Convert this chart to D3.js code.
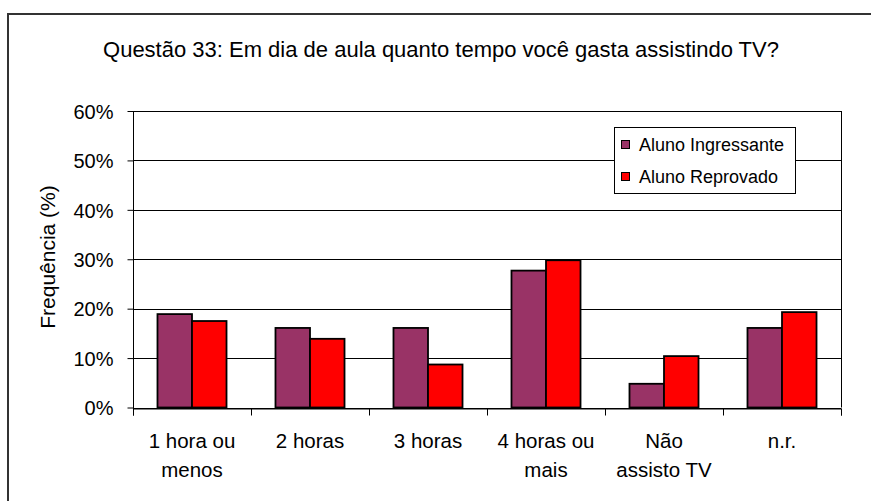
<!DOCTYPE html>
<html>
<head>
<meta charset="utf-8">
<script src="https://cdn.jsdelivr.net/npm/d3@7"></script>
<style>
body{margin:0;background:#fff;}
text{font-family:"Liberation Sans",Arial,sans-serif;fill:#000;}
</style>
</head>
<body>
<script>
var categories = [["1 hora ou","menos"],["2 horas"],["3 horas"],["4 horas ou","mais"],["Não","assisto TV"],["n.r."]];//x labels (lines)
var ingressante = [18.9, 16.1, 16.1, 27.7, 4.8, 16.1];//Aluno Ingressante (%)
var reprovado = [17.5, 13.9, 8.7, 29.8, 10.4, 19.3];//Aluno Reprovado (%)
var seriesNames = ["Aluno Ingressante","Aluno Reprovado"];
var yTicks = [0,10,20,30,40,50,60];

var W = 871, H = 501;
var plot = {left:133, top:111, right:841, bottom:407.5};//plot area

var svg = d3.select("body").append("svg")//canvas
    .attr("width", W)
    .attr("height", H);

svg.append("rect")//outer chart border
    .attr("x", 8).attr("y", 14)
    .attr("width", W).attr("height", H)
    .attr("fill","none").attr("stroke","#333").attr("stroke-width",2);

svg.append("text")//title
    .attr("x", 441).attr("y", 57)
    .attr("text-anchor","middle")
    .style("font-size","22px")
    .text("Questão 33: Em dia de aula quanto tempo você gasta assistindo TV?");

var idx = d3.range(categories.length);
var xScale = d3.scaleBand()
    .domain(idx)
    .range([plot.left, plot.right])
    .paddingInner(0).paddingOuter(0);
var yScale = d3.scaleLinear()
    .domain([0,60])
    .range([plot.bottom, plot.top]);

//gridlines
svg.append("g").selectAll("line").data(yTicks).enter().append("line")
    .attr("x1", plot.left).attr("x2", plot.right)
    .attr("y1", function(d){return Math.round(yScale(d))+0.5;})
    .attr("y2", function(d){return Math.round(yScale(d))+0.5;})
    .attr("stroke","#000").attr("stroke-width",1);

svg.append("line")//right border of plot
    .attr("x1", plot.right+0.5).attr("x2", plot.right+0.5)
    .attr("y1", plot.top).attr("y2", plot.bottom)
    .attr("stroke","#000");

//bars
var groupW = xScale.bandwidth()*0.585;//both bars together
var barW = groupW/2;
var series = [ingressante, reprovado];
var colors = ["#993366","#FF0000"];
series.forEach(function(vals, s){
    svg.append("g").selectAll("rect").data(vals).enter().append("rect")
        .attr("x", function(d,i){return xScale(i) + (xScale.bandwidth()-groupW)/2 + s*barW;})
        .attr("y", function(d){return yScale(d);})
        .attr("width", barW)
        .attr("height", function(d){return yScale(0)-yScale(d);})
        .attr("fill", colors[s])
        .attr("stroke","#000").attr("stroke-width",1.8);
});

//y axis
var yAxis = d3.axisLeft(yScale).tickValues(yTicks)
    .tickFormat(function(d){return d+"%";})
    .tickSize(6).tickPadding(14);
var yg = svg.append("g")
    .attr("transform","translate(" + (plot.left+0.5) + ",0)")
    .call(yAxis);
yg.selectAll("text").style("font-size","20px").attr("dy","0.36em");

//x axis
var xAxis = d3.axisBottom(d3.scaleLinear().domain([0,categories.length]).range([plot.left, plot.right]))
    .tickValues(d3.range(categories.length+1))
    .tickSize(7).tickFormat("");
var xg = svg.append("g")
    .attr("transform","translate(0," + (Math.round(plot.bottom)+0.5) + ")")
    .call(xAxis);
svg.selectAll(".domain").attr("stroke","#000");
svg.selectAll(".tick line").attr("stroke","#000");
yg.selectAll(".domain").remove();
svg.append("line")//left axis line
    .attr("x1", plot.left+0.5).attr("x2", plot.left+0.5)
    .attr("y1", plot.top).attr("y2", plot.bottom+1)
    .attr("stroke","#000");

//x category labels
var xl = svg.append("g").selectAll("text").data(categories).enter().append("text")
    .attr("text-anchor","middle")
    .style("font-size","20.5px");
xl.each(function(lines, i){
    var t = d3.select(this);
    lines.forEach(function(l, k){
        t.append("tspan")
            .attr("x", xScale(i)+xScale.bandwidth()/2)
            .attr("y", 448 + k*29)
            .text(l);
    });
});

svg.append("text")//y axis title
    .attr("transform","translate(55,257) rotate(-90)")
    .attr("text-anchor","middle")
    .style("font-size","21px")
    .text("Frequência (%)");

//legend
var lg = svg.append("g");
lg.append("rect")
    .attr("x", 614.5).attr("y", 127.5)
    .attr("width", 181).attr("height", 66)
    .attr("fill","#fff").attr("stroke","#000");
seriesNames.forEach(function(n, s){
    var cy = 145 + s*32;
    lg.append("rect")
        .attr("x", 621.5).attr("y", cy-4.5)
        .attr("width", 8).attr("height", 8)
        .attr("fill", colors[s]).attr("stroke","#000");
    lg.append("text")
        .attr("x", 639).attr("y", cy)
        .attr("dy","0.36em")
        .style("font-size","18px")
        .text(n);
});
</script>
</body>
</html>
